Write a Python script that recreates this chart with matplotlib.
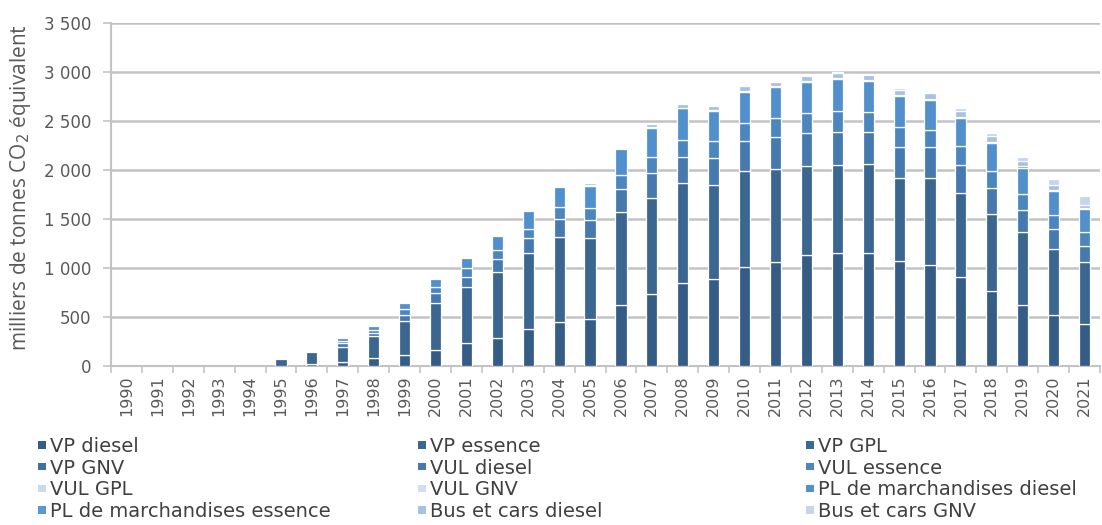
import matplotlib
matplotlib.use("Agg")
import matplotlib.pyplot as plt
import numpy as np
from matplotlib.ticker import FixedLocator, FuncFormatter, MultipleLocator

years = [str(y) for y in range(1990, 2022)]

series_names = ["VP diesel", "VP essence", "VP GPL", "VP GNV", "VUL diesel", "VUL essence",
                "VUL GPL", "VUL GNV", "PL de marchandises diesel", "PL de marchandises essence",
                "Bus et cars diesel", "Bus et cars GNV"]

vp_diesel = [0, 0, 0, 0, 0, 5, 18, 44, 78, 117, 163, 231, 282, 378, 452, 476, 622, 731, 850, 891,
             1007, 1058, 1133, 1150, 1150, 1071, 1031, 912, 769, 622, 520, 429]
vp_essence = [0, 0, 0, 0, 0, 63, 120, 153, 228, 345, 483, 572, 680, 772, 868, 827, 946, 987, 1021, 956,
              980, 952, 908, 901, 911, 851, 891, 850, 782, 749, 670, 629]
vp_gpl = [0] * 32
vp_gnv = [0] * 32
vul_diesel = [0, 0, 0, 0, 0, 0, 0, 34, 34, 62, 96, 102, 130, 160, 177, 187, 238, 248, 265, 272,
              312, 330, 340, 340, 330, 316, 316, 289, 269, 221, 208, 166]
vul_essence = [0, 0, 0, 0, 0, 0, 0, 24, 27, 58, 61, 92, 92, 85, 129, 119, 143, 170, 170, 177,
               177, 187, 197, 211, 197, 204, 170, 197, 170, 163, 143, 147]
vul_gpl = [0] * 32
vul_gnv = [0] * 32
pl_diesel = [0, 0, 0, 0, 0, 0, 0, 27, 41, 64, 82, 108, 143, 183, 204, 228, 269, 296, 323, 306,
             323, 316, 323, 323, 323, 313, 306, 283, 282, 269, 245, 231]
pl_essence = [0, 0, 0, 0, 0, 0, 0, 0, 0, 0, 0, 0, 0, 0, 0, 5, 0, 5, 8, 10,
              10, 12, 12, 15, 12, 12, 12, 12, 12, 12, 15, 15]
bus_diesel = [0, 0, 0, 0, 0, 0, 0, 0, 0, 0, 0, 0, 0, 0, 0, 30, 0, 35, 35, 45,
              50, 45, 50, 50, 50, 50, 55, 60, 60, 55, 45, 30]
bus_gnv = [0, 0, 0, 0, 0, 0, 0, 0, 0, 0, 0, 0, 0, 0, 0, 0, 0, 0, 0, 0,
           0, 0, 0, 5, 0, 15, 20, 25, 30, 45, 65, 85]

data = [vp_diesel, vp_essence, vp_gpl, vp_gnv, vul_diesel, vul_essence,
        vul_gpl, vul_gnv, pl_diesel, pl_essence, bus_diesel, bus_gnv]

colors = ["#355C85", "#3A6690", "#3B6A97", "#3E70A0", "#4679AE", "#4C86BF",
          "#C9D9EE", "#D2DFF1", "#5190CC", "#5898D6", "#A6C1E4", "#C4D5EC"]

plt.rcParams['font.family'] = ['DejaVu Sans']

fig = plt.figure(figsize=(11.02, 5.25), dpi=100)
ax = fig.add_axes([111 / 1102, 1 - 366 / 525, (1100 - 111) / 1102, (366 - 23) / 525])

x = np.arange(len(years))
bottom = np.zeros(len(years))
handles = []
for name, vals, c in zip(series_names, data, colors):
    v = np.array(vals, dtype=float)
    m = v > 0
    ax.bar(x[m], v[m], 0.36, bottom=bottom[m], color=c, edgecolor="white", linewidth=0.9,
           zorder=3)
    handles.append(plt.Rectangle((0, 0), 1, 1, facecolor=c, edgecolor="none"))
    bottom += v

grid_c = "#C3C3C3"
ax.set_ylim(0, 3500)
ax.set_xlim(-0.5, len(years) - 0.5)
ax.yaxis.set_major_locator(MultipleLocator(500))
ax.yaxis.set_major_formatter(FuncFormatter(lambda v, p: f"{int(v):,}".replace(",", " ")))
ax.grid(axis="y", color=grid_c, linewidth=1.8, zorder=0)
ax.set_axisbelow(True)

ax.set_xticks(x)
ax.set_xticklabels(years, rotation=90)
ax.xaxis.set_minor_locator(FixedLocator(np.arange(-0.5, len(years), 1.0)))
ax.tick_params(axis="x", which="major", length=0, pad=7, labelsize=11.5, labelcolor="#595959")
ax.tick_params(axis="x", which="minor", length=5, width=1.2, color=grid_c)
ax.tick_params(axis="y", which="major", length=6, width=1.2, color=grid_c, labelsize=12,
               labelcolor="#595959", pad=8)

for s in ["top", "right"]:
    ax.spines[s].set_visible(False)
for s in ["left", "bottom"]:
    ax.spines[s].set_color(grid_c)
    ax.spines[s].set_linewidth(1.5)

ax.set_ylabel("milliers de tonnes CO$_2$ équivalent", fontsize=15, color="#595959",
              family=['Open Sans', 'DejaVu Sans'])
ax.yaxis.set_label_coords(-0.079, 0.52)

col_x = [38 / 1102, 418 / 1102, 806 / 1102]
for ci in range(3):
    idx = [ci, ci + 3, ci + 6, ci + 9]
    leg = fig.legend([handles[i] for i in idx], [series_names[i] for i in idx],
                     loc="upper left", bbox_to_anchor=(col_x[ci], 1 - 437 / 525),
                     frameon=False, ncol=1, fontsize=14, handlelength=0.4, handleheight=0.22,
                     handletextpad=0.22, labelspacing=0.14, borderpad=0, borderaxespad=0)
    for t in leg.get_texts():
        t.set_color("#404040")

fig.savefig("out.png", dpi=100)
